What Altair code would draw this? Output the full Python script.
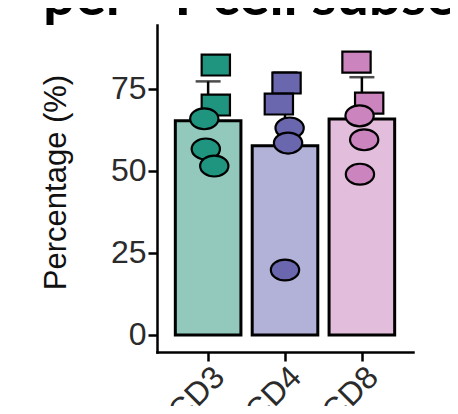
import altair as alt
import pandas as pd
import json

# ---- data ----
subsets = ["CD3", "CD4", "CD8"]
cd3_values = [82.3, 70.1, 65.9, 56.7, 51.5]
cd4_values = [76.8, 70.4, 63.1, 58.5, 19.8]
cd8_values = [83.2, 70.7, 66.8, 59.5, 49.0]
marker_group = ["Square", "Square", "Circle", "Circle", "Circle"]
# horizontal jitter (in category units)
cd3_jitter = [0.10, 0.10, -0.05, -0.03, 0.08]
cd4_jitter = [0.02, -0.08, 0.06, 0.04, 0.00]
cd8_jitter = [-0.07, 0.095, -0.03, 0.03, -0.025]
y_ticks = [0, 25, 50, 75]

title_text = "per\u00a0\u00a0\u00a0T cell subset"
y_title = "Percentage (%)"

point_fills = ["#1F9580", "#6B67AE", "#CC84BF"]
bar_fills = ["#93C9BC", "#B2B1D8", "#E2BEDC"]

rows = []
for i, (s, vals, jit) in enumerate(zip(subsets, [cd3_values, cd4_values, cd8_values],
                                       [cd3_jitter, cd4_jitter, cd8_jitter])):
    for v, g, j in zip(vals, marker_group, jit):
        rows.append({"subset": s, "pos": i + 1, "value": v, "group": g, "jitter": j})
df = pd.DataFrame(rows)

rect_path = "M -1 -0.74 L 1 -0.74 L 1 0.74 L -1 0.74 Z"
ellipse_path = "M -1 0 A 1 0.74 0 1 0 1 0 A 1 0.74 0 1 0 -1 0 Z"

W, H = 256, 327
x_scale = alt.Scale(domain=[0.4, 3.6], nice=False, zero=False)
y_scale = alt.Scale(domain=[-5.2, 94.5], nice=False, zero=False)

label_expr = json.dumps(subsets) + "[datum.value - 1]"
x_axis = alt.Axis(values=[1, 2, 3], labelExpr=label_expr, title=None,
                  labelAngle=315, labelAlign="right", labelBaseline="top",
                  labelPadding=0)
y_axis = alt.Axis(values=y_ticks, title=y_title, titleX=-101, titleY=157,
                  titleAngle=270, titleBaseline="middle", titleAlign="center")

base = alt.Chart(df).transform_aggregate(
    mean="mean(value)", sd="stdev(value)", groupby=["subset", "pos"]
).transform_calculate(upper="datum.mean + datum.sd")

err_rule = base.mark_rule(color="black", strokeWidth=2.5).encode(
    x=alt.X("pos:Q", scale=x_scale, axis=x_axis),
    y=alt.Y("mean:Q", scale=y_scale, axis=y_axis),
    y2="upper:Q",
)
err_cap = base.mark_tick(color="black", thickness=2.5, size=25, orient="horizontal").encode(
    x=alt.X("pos:Q", scale=x_scale),
    y=alt.Y("upper:Q", scale=y_scale),
)
bars = base.mark_bar(size=65.6, strokeWidth=3).encode(
    x=alt.X("pos:Q", scale=x_scale),
    y=alt.Y("mean:Q", scale=y_scale),
    y2=alt.datum(0),
    fill=alt.Fill("subset:N", scale=alt.Scale(domain=subsets, range=bar_fills), legend=None),
    stroke=alt.value("black"),
)
points = alt.Chart(df).transform_calculate(
    xp="datum.pos + datum.jitter"
).mark_point(filled=True, size=800, strokeWidth=2.2, opacity=1).encode(
    x=alt.X("xp:Q", scale=x_scale),
    y=alt.Y("value:Q", scale=y_scale),
    fill=alt.Fill("subset:N", scale=alt.Scale(domain=subsets, range=point_fills), legend=None),
    stroke=alt.value("black"),
    shape=alt.Shape("group:N", scale=alt.Scale(domain=["Square", "Circle"],
                                               range=[rect_path, ellipse_path]), legend=None),
)
title = alt.Chart(pd.DataFrame({"t": [title_text]})).mark_text(
    font="Lato", fontWeight="bold", fontSize=57, align="left",
    baseline="alphabetic", color="black"
).encode(x=alt.value(-114), y=alt.value(-10), text="t:N")

chart = alt.layer(err_rule, err_cap, bars, points, title).resolve_scale(
    fill="independent"
).properties(
    width=W, height=H,
    autosize=alt.AutoSizeParams(type="none"),
    padding={"left": 149, "top": 17, "right": 37, "bottom": 54},
).configure_view(stroke=None).configure_axis(
    labelFont="Liberation Sans", titleFont="Liberation Sans",
    labelFontSize=32, titleFontSize=31, titleFontWeight="normal",
    labelColor="#2b2b2b", titleColor="#111111",
    domainColor="black", domainWidth=2.5, domainCap="square",
    tickColor="black", tickWidth=2.5, tickSize=9, grid=False,
)

chart.save("out.html", embed_options={"renderer": "svg", "actions": False})
